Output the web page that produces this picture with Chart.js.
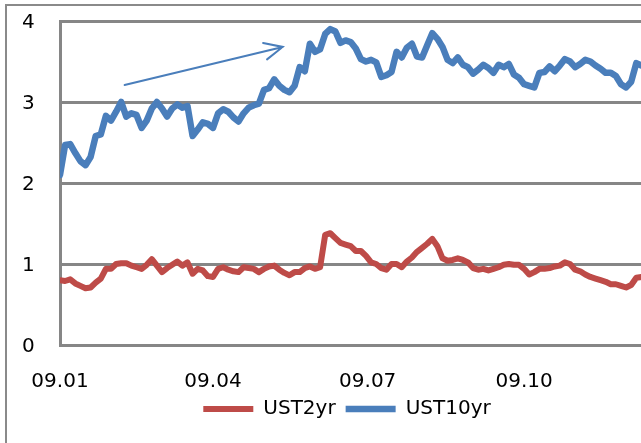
<!DOCTYPE html>
<html>
<head>
<meta charset="utf-8">
<script src="https://cdn.jsdelivr.net/npm/chart.js@4/dist/chart.umd.min.js"></script>
<style>
  html, body { margin: 0; padding: 0; width: 641px; height: 443px; overflow: hidden; background: #fff; }
  #frame { position: absolute; left: 5px; top: 4px; width: 720px; height: 520px;
           border-left: 2px solid #8a8a8a; border-top: 2px solid #8a8a8a; }
  #wrap { position: absolute; left: 0; top: 0; }
</style>
</head>
<body>
<div id="frame"></div>
<div id="wrap"><canvas id="c" width="694" height="429"></canvas></div>
<script>
// US Treasury yields through 2009, one reading every 3 calendar days (%).
const stepDays = 3;
const ust2yr = [
  0.80, 0.79, 0.81, 0.76, 0.73, 0.70, 0.71, 0.77, 0.82, 0.94,
  0.94, 1.00, 1.01, 1.01, 0.98, 0.96, 0.94, 0.99, 1.06, 0.98,
  0.90, 0.95, 0.99, 1.03, 0.98, 1.02, 0.88, 0.94, 0.92, 0.85,
  0.84, 0.94, 0.96, 0.93, 0.91, 0.90, 0.96, 0.95, 0.94, 0.90,
  0.94, 0.97, 0.98, 0.93, 0.89, 0.86, 0.90, 0.90, 0.95, 0.97,
  0.94, 0.96, 1.36, 1.38, 1.32, 1.26, 1.24, 1.22, 1.16, 1.16,
  1.10, 1.02, 1.00, 0.95, 0.93, 1.00, 1.00, 0.96, 1.03, 1.08,
  1.15, 1.20, 1.25, 1.31, 1.22, 1.07, 1.04, 1.05, 1.07, 1.05,
  1.02, 0.95, 0.93, 0.94, 0.92, 0.94, 0.96, 0.99, 1.00, 0.99,
  0.99, 0.94, 0.87, 0.90, 0.94, 0.94, 0.95, 0.97, 0.98, 1.02,
  1.00, 0.93, 0.91, 0.87, 0.84, 0.82, 0.80, 0.78, 0.75, 0.75,
  0.73, 0.71, 0.74, 0.83, 0.84
];
const ust10yr = [
  2.10, 2.47, 2.48, 2.37, 2.27, 2.22, 2.32, 2.58, 2.60, 2.83,
  2.77, 2.88, 3.00, 2.82, 2.86, 2.84, 2.68, 2.77, 2.92, 3.00,
  2.92, 2.82, 2.92, 2.97, 2.93, 2.95, 2.58, 2.66, 2.75, 2.73,
  2.68, 2.86, 2.91, 2.88, 2.81, 2.76, 2.86, 2.93, 2.96, 2.98,
  3.15, 3.17, 3.28, 3.20, 3.15, 3.12, 3.20, 3.43, 3.38, 3.72,
  3.62, 3.65, 3.84, 3.90, 3.87, 3.73, 3.76, 3.74, 3.66, 3.53,
  3.50, 3.52, 3.49, 3.31, 3.33, 3.37, 3.62, 3.55, 3.67, 3.72,
  3.56, 3.55, 3.70, 3.85, 3.78, 3.68, 3.52, 3.48, 3.55, 3.46,
  3.43, 3.35, 3.40, 3.46, 3.42, 3.36, 3.46, 3.43, 3.47, 3.34,
  3.30, 3.22, 3.20, 3.18, 3.36, 3.37, 3.44, 3.38, 3.45, 3.53,
  3.50, 3.43, 3.47, 3.52, 3.50, 3.45, 3.41, 3.36, 3.36, 3.32,
  3.22, 3.18, 3.25, 3.48, 3.45
];
// Quarter starts (day of year) and their axis labels.
const tickDays = [0, 90, 181, 273];
const tickLabels = ['09.01', '09.04', '09.07', '09.10'];
// Trend arrow drawn over the 10-year series: [day, yield].
const trendFrom = [38, 3.21];
const trendTo = [131, 3.68];

const days = ust10yr.map((_, i) => i * stepDays);
const toPoints = arr => arr.map((v, i) => ({ x: days[i], y: v }));

const RED = '#be4b48';
const BLUE = '#4a7ebb';
const GRID = '#868686';
const FONT = 'DejaVu Sans';
const FONT_SIZE = 20;

const trendArrow = {
  id: 'trendArrow',
  afterDatasetsDraw(chart) {
    const { ctx, scales: { x, y } } = chart;
    const x0 = x.getPixelForValue(trendFrom[0]), y0 = y.getPixelForValue(trendFrom[1]);
    const x1 = x.getPixelForValue(trendTo[0]), y1 = y.getPixelForValue(trendTo[1]);
    const ang = Math.atan2(y1 - y0, x1 - x0);
    const head = 20, spread = 25 * Math.PI / 180;
    ctx.save();
    ctx.strokeStyle = BLUE;
    ctx.lineWidth = 2;
    ctx.lineCap = 'round';
    ctx.beginPath();
    ctx.moveTo(x0, y0);
    ctx.lineTo(x1, y1);
    ctx.moveTo(x1 - head * Math.cos(ang - spread), y1 - head * Math.sin(ang - spread));
    ctx.lineTo(x1, y1);
    ctx.lineTo(x1 - head * Math.cos(ang + spread), y1 - head * Math.sin(ang + spread));
    ctx.stroke();
    ctx.restore();
  }
};

new Chart(document.getElementById('c'), {
  type: 'line',
  data: {
    datasets: [
      { label: 'UST2yr', data: toPoints(ust2yr), borderColor: RED, backgroundColor: RED,
        borderWidth: 6, pointRadius: 0, tension: 0, borderJoinStyle: 'round', borderCapStyle: 'round' },
      { label: 'UST10yr', data: toPoints(ust10yr), borderColor: BLUE, backgroundColor: BLUE,
        borderWidth: 6.5, pointRadius: 0, tension: 0, borderJoinStyle: 'round', borderCapStyle: 'round' }
    ]
  },
  options: {
    responsive: false,
    animation: false,
    events: [],
    layout: { padding: { top: 21, right: 22, bottom: 0, left: 22 } },
    scales: {
      x: {
        type: 'linear', min: 0, max: 360,
        afterBuildTicks: s => { s.ticks = tickDays.map(v => ({ value: v })); },
        afterFit: s => { s.height = 44; },
        ticks: {
          autoSkip: false, maxRotation: 0, padding: 25, color: '#000',
          font: { family: FONT, size: FONT_SIZE },
          callback: v => tickLabels[tickDays.indexOf(v)]
        },
        grid: { display: false, drawTicks: false },
        border: { display: true, color: GRID, width: 3 }
      },
      y: {
        min: 0, max: 4,
        afterFit: s => { s.width = 38; },
        ticks: { stepSize: 1, padding: 0, crossAlign: 'far', labelOffset: 2, color: '#000',
                 font: { family: FONT, size: FONT_SIZE } },
        grid: { color: GRID, lineWidth: 3, drawTicks: false },
        border: { display: true, color: GRID, width: 3 }
      }
    },
    plugins: {
      tooltip: { enabled: false },
      legend: {
        position: 'bottom',
        labels: {
          usePointStyle: true, pointStyle: 'line', pointStyleWidth: 50,
          color: '#000', font: { family: FONT, size: FONT_SIZE }, padding: 10
        }
      }
    }
  },
  plugins: [trendArrow]
});
</script>
</body>
</html>
